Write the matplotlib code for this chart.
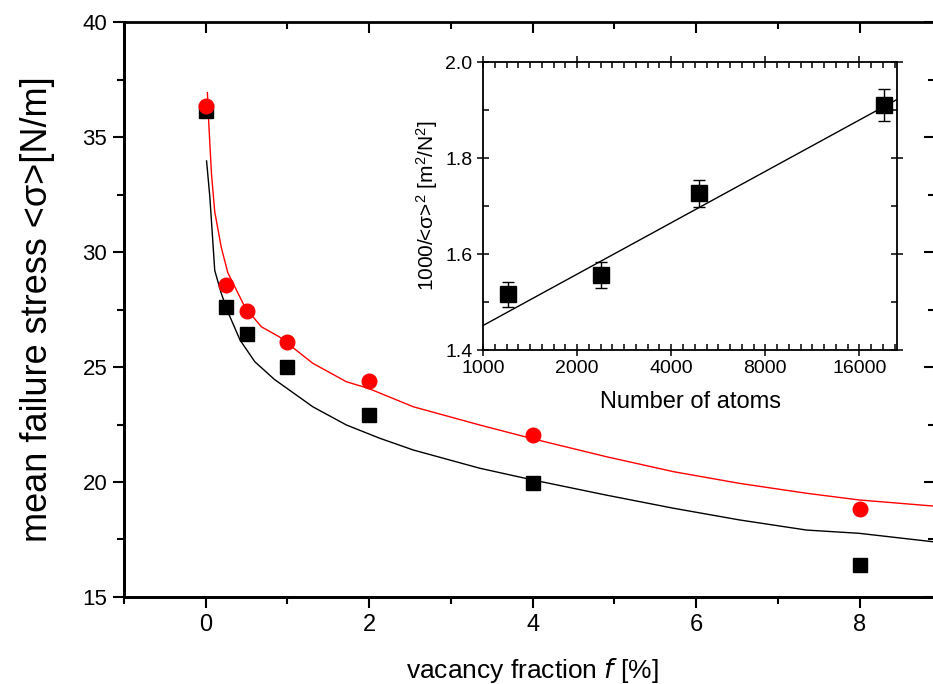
import matplotlib
matplotlib.use('Agg')
import matplotlib.pyplot as plt
from matplotlib.ticker import FixedLocator, FixedFormatter
import numpy as np

plt.rcParams['font.family'] = ['Liberation Sans', 'DejaVu Sans']
plt.rcParams['mathtext.default'] = 'regular'

# main plot: measured points
f_pts = [0, 0.25, 0.5, 1, 2, 4, 8]
sq_pts = [36.15, 27.6, 26.45, 25.0, 22.9, 19.95, 16.4]
ci_pts = [36.35, 28.57, 27.45, 26.1, 24.4, 22.05, 18.83]

# fit curves
red_x = [0.02, 0.037, 0.07, 0.11, 0.19, 0.27, 0.48, 0.68, 0.905, 1.31, 1.72, 1.99,
         2.54, 3.35, 4.0, 4.90, 5.72, 6.53, 7.35, 7.99, 8.95]
red_y = [36.93, 35.6, 33.4, 31.75, 30.2, 29.1, 27.6, 26.75, 26.3, 25.16, 24.36, 24.07,
         23.27, 22.48, 21.88, 21.1, 20.45, 19.94, 19.51, 19.22, 18.94]
blk_x = [0.01, 0.05, 0.11, 0.19, 0.27, 0.42, 0.60, 0.84, 1.31, 1.72, 2.13, 2.54,
         3.35, 4.0, 4.90, 5.72, 6.53, 7.35, 7.99, 8.95]
blk_y = [33.96, 32.4, 29.2, 28.2, 27.4, 26.17, 25.23, 24.46, 23.27, 22.48, 21.9, 21.39,
         20.6, 20.09, 19.43, 18.86, 18.35, 17.91, 17.77, 17.38]

# inset
n_atoms = [1200, 2390, 4910, 19150]
inv_s2 = [1.516, 1.557, 1.727, 1.910]
inv_err = [0.026, 0.027, 0.028, 0.033]
fit_n = [1000, 21100]
fit_v = [1.451, 1.922]

x_major = [0, 2, 4, 6, 8]
x_minor = [-1, 1, 3, 5, 7]
y_major = [15, 20, 25, 30, 35, 40]
y_minor = [17.5, 22.5, 27.5, 32.5, 37.5]

fig = plt.figure(figsize=(9.33, 6.84), dpi=100)
ax = fig.add_axes([0.1329, 0.1272, 0.8692, 0.8406])

ax.plot(red_x, red_y, color='red', lw=1.0)
ax.plot(blk_x, blk_y, color='black', lw=1.0)
ax.plot(f_pts, sq_pts, 's', color='black', ms=9.5, ls='none')
ax.plot(f_pts, ci_pts, 'o', color='red', ms=10.5, ls='none')

ax.set_xlim(-1, 8.92)
ax.set_ylim(15, 40)
ax.xaxis.set_major_locator(FixedLocator(x_major))
ax.xaxis.set_minor_locator(FixedLocator(x_minor))
ax.yaxis.set_major_locator(FixedLocator(y_major))
ax.yaxis.set_minor_locator(FixedLocator(y_minor))
for s in ax.spines.values():
    s.set_linewidth(2)
# top / right ticks point inward, bottom / left drawn by secondary axes (outward)
ax.tick_params(which='major', length=8, width=1.5)
ax.tick_params(which='minor', length=5, width=1.5)
ax.xaxis.set_tick_params(which='both', direction='in', bottom=False, top=True,
                         labelbottom=False)
ax.yaxis.set_tick_params(which='both', direction='in', left=False, right=True,
                         labelleft=False)
ax.set_xlabel('vacancy fraction $\\mathit{f}$ [%]', fontsize=19)
ax.xaxis.set_label_coords(0.503, -0.102)
ax.set_ylabel('mean failure stress <σ>[N/m]', fontsize=26)
ax.yaxis.set_label_coords(-0.085, 0.5)

ax2 = ax.secondary_xaxis('bottom')
ax2.xaxis.set_major_locator(FixedLocator(x_major))
ax2.xaxis.set_minor_locator(FixedLocator(x_minor))
ax2.tick_params(which='major', direction='out', length=8, width=1.5, labelsize=17, pad=4)
ax2.tick_params(which='minor', direction='out', length=5, width=1.5)
ax2.spines['bottom'].set_linewidth(2)

ay2 = ax.secondary_yaxis('left')
ay2.yaxis.set_major_locator(FixedLocator(y_major))
ay2.yaxis.set_minor_locator(FixedLocator(y_minor))
ay2.tick_params(which='major', direction='out', length=8, width=1.5, labelsize=16, pad=4)
ay2.tick_params(which='minor', direction='out', length=5, width=1.5)
ay2.spines['left'].set_linewidth(2)

# inset
ins = fig.add_axes([0.5177, 0.4883, 0.4437, 0.421])
ins.plot(fit_n, fit_v, color='black', lw=1.0)
ins.errorbar(n_atoms, inv_s2, yerr=inv_err, fmt='s', color='black', ms=12,
             capsize=4, elinewidth=1, capthick=1)
ins.set_xscale('log', base=2)
ins.set_xlim(1000, 21100)
ins.set_ylim(1.4, 2.0)
ins.xaxis.set_major_locator(FixedLocator([1000, 2000, 4000, 8000, 16000]))
ins.xaxis.set_major_formatter(FixedFormatter(['1000', '2000', '4000', '8000', '16000']))
ins.xaxis.set_minor_locator(FixedLocator([1000 * 2 ** (k / 8) for k in range(1, 36) if k % 8]))
ins.xaxis.set_minor_formatter(FixedFormatter([]))
ins.yaxis.set_major_locator(FixedLocator([1.4, 1.6, 1.8, 2.0]))
ins.yaxis.set_major_formatter(FixedFormatter(['1.4', '1.6', '1.8', '2.0']))
ins.yaxis.set_minor_locator(FixedLocator([1.5, 1.7, 1.9]))
for s in ins.spines.values():
    s.set_linewidth(1.3)
ins.tick_params(which='both', width=1.1, top=True, right=True, labelsize=14)
ins.tick_params(which='major', direction='inout', length=8)
ins.tick_params(which='minor', direction='in', length=4)
ins.set_xlabel('Number of atoms', fontsize=17, labelpad=10)
ins.set_ylabel('1000/<σ>$^{2}$ [m$^{2}$/N$^{2}$]', fontsize=15, labelpad=4)

fig.savefig('out.png', dpi=100)
